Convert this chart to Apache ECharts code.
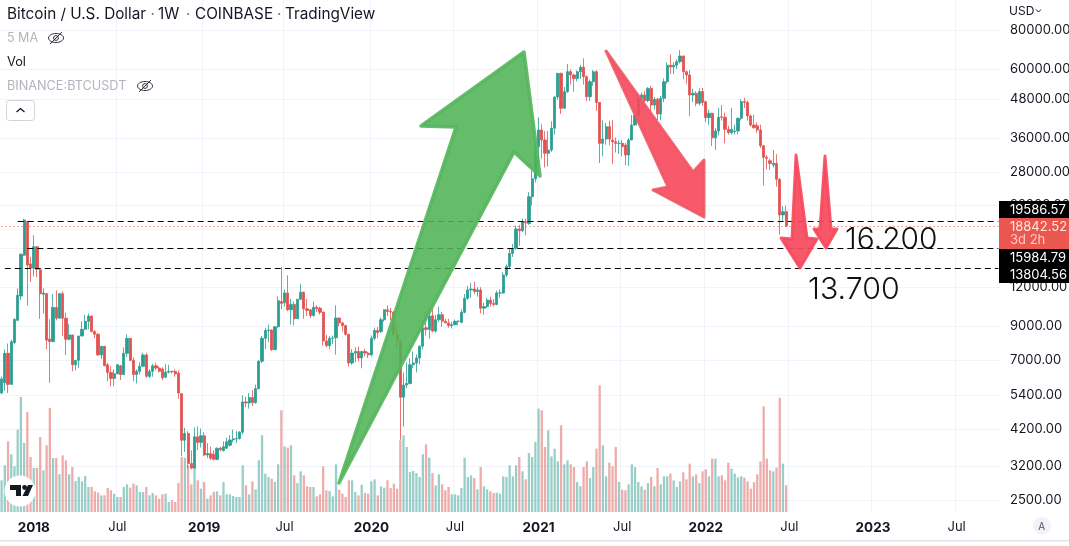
<!DOCTYPE html>
<html><head><meta charset="utf-8">
<script src="https://cdn.jsdelivr.net/npm/echarts@6/dist/echarts.min.js"></script>
<style>html,body{margin:0;padding:0;background:#fff}#c{width:1069px;height:546px}</style>
</head><body><div id="c"></div>
<script>
// weekly candles [open, close, low, high]
const candles2017 = [[5500,6100,5450,6200],[5930,7370,5600,7580],[7370,5860,5500,7920],[5860,8030,5860,8140],[7980,9460,7900,9550],[9400,11300,9350,11900],[11240,15300,10900,15400],[15200,19700,15100,19891],[19500,14130,10500,19550],[14250,13810,12460,15000]];
const candles2018 = [[13810,16180,13000,17600],[16180,13700,12900,16200],[13640,11440,9500,13700],[11390,11500,9900,11900],[11440,8120,7600,11500],[8190,8030,5930,9480],[8030,10340,8030,11400],[10340,9550,9400,11720],[9550,11440,9550,11500],[11440,9550,8370,11650],[9550,8170,7280,9950],[8170,8440,8100,9150],[8440,6770,6450,8440],[6770,7000,6500,7000],[7000,8375,6610,8375],[8375,8800,8350,9330],[8800,9330,8750,9780],[9330,9700,8800,9870],[9700,8650,8600,9750],[8650,8480,8230,8750],[8480,7280,7250,8560],[7280,7760,7050,7760],[7760,6720,6700,7780],[6770,6400,6000,6880],[6400,6120,5770,6700],[6120,6340,5770,6550],[6340,6770,6300,6810],[6720,6300,6050,6770],[6300,7370,6300,7700],[7370,8220,7180,8480],[8220,7000,6950,8270],[7000,6300,6000,7150],[6300,6450,5900,6550],[6450,6700,6300,6900],[6700,7280,6650,7400],[7280,6220,6150,7400],[6220,6450,6130,6550],[6450,6720,6200,6820],[6720,6610,6500,6870],[6610,6450,6400,6700],[6560,6150,6040,6650],[6180,6410,6150,6800],[6410,6450,6350,6770],[6450,6430,6350,6480],[6450,6330,6200,6550],[6370,5500,5270,6500],[5470,3880,3450,5500],[3880,4080,3560,4250],[4080,3270,3150,4150],[3270,3160,3130,3600],[3160,3980,3150,4260],[3980,3820,3620,4300],[3820,4010,3680,4230]];
const candles2019 = [[4010,3480,3450,4120],[3480,3520,3400,3800],[3520,3400,3350,3700],[3500,3370,3350,3600],[3370,3660,3350,3680],[3660,3620,3580,3700],[3600,3700,3570,3850],[3660,3840,3640,3960],[3740,3890,3700,4030],[3890,3920,3820,4200],[3920,3930,3800,4150],[3930,4120,3900,4150],[4120,5150,4050,5400],[5150,5110,4950,5350],[5110,5320,4900,5500],[5320,5120,5000,5620],[5120,5680,5080,5850],[5680,6950,5650,7000],[6950,8230,6850,8370],[8230,8720,7600,8900],[8720,8750,8000,9100],[8750,7570,7500,8800],[7570,8960,7550,9000],[8960,10860,8900,11200],[10790,10650,10200,13950],[10700,11500,10400,11800],[11500,10160,10050,13100],[10160,10570,9110,11000],[10570,9510,9050,10800],[9510,10980,9500,11000],[10980,11570,10900,12300],[11570,10230,9500,11620],[10230,10110,9700,11000],[10160,9740,9560,10200],[9740,10350,9650,10800],[10350,10230,10000,10500],[10280,9970,9800,10400],[9990,8070,7800,10000],[8070,7800,7700,8450],[7800,8230,7600,8370],[8230,8250,7900,8400],[8270,9560,7300,10500],[9560,9220,9000,9600],[9220,9040,8650,9300],[9040,8480,8400,9100],[8480,6860,6700,8500],[6860,7380,6770,7600],[7380,7470,6900,7700],[7470,7120,6950,7750],[7120,7470,6600,7500],[7470,7380,7200,7600],[7380,7290,7120,7450]];
const candles2020 = [[7290,8230,7200,8400],[8230,8720,8100,8900],[8720,8580,8250,8950],[8650,9440,8550,9600],[9440,10160,9300,10200],[10160,10040,9700,10500],[10040,9990,9400,10300],[9990,8480,8400,10040],[8480,8070,7600,9200],[8070,5330,3890,8100],[5330,5830,4290,6400],[5830,5900,5700,6900],[5900,6770,5850,7100],[6770,6860,6600,7470],[6860,7120,6400,7300],[7120,7770,6800,7800],[7770,8890,7600,9440],[8890,8780,8400,10000],[8780,9700,8200,9900],[9720,8680,8600,10300],[8680,9440,8600,9800],[9440,9800,9300,10400],[9800,9330,8950,10000],[9330,9220,9200,9500],[9220,9040,8900,9500],[9040,9110,8850,9300],[9110,9330,9050,9450],[9330,9335,9050,9400],[9260,9970,9200,10200],[9970,11050,9900,11400],[11050,11760,10950,12100],[11760,11840,11100,12400],[11840,11620,11400,12480],[11620,11760,11200,12000],[11760,10280,9900,12000],[10280,10400,9800,10700],[10400,10910,10300,11100],[10910,10650,10400,11200],[10650,10570,10400,11000],[10570,11500,10500,11700],[11500,11510,11100,11800],[11500,13130,11450,13400],[13130,13990,12900,14200],[13990,15400,13800,16000],[15400,15990,15000,16500],[15990,18450,15800,18900],[18450,18200,16300,19000],[18200,19480,18000,19900],[19480,19280,17600,19900],[19200,23400,19000,24200],[23400,26700,21900,28400],[26700,33830,26000,34800]];
const candles2021 = [[33830,38270,30000,42010],[38270,35540,31000,39900],[35540,32210,29000,38000],[32210,33010,29200,38000],[33010,38730,32500,40800],[38790,48800,37000,49000],[48800,58100,47800,58300],[58100,44900,43060,58400],[44900,50760,44900,52500],[50760,58820,50300,62200],[58820,57400,53500,59800],[57400,55900,50760,58000],[55900,58800,54800,59400],[58800,60800,55800,61800],[60800,56700,53500,64900],[56700,48920,47300,57200],[48920,54650,47300,55500],[54650,58820,53000,59500],[58820,46900,44070,59500],[46900,34670,30000,47000],[34670,35800,31500,41100],[35800,39210,34300,40300],[39210,35800,34200,41000],[35540,35100,29800,41200],[35100,34670,32400,36200],[34670,34700,32100,35500],[34670,33830,31500,35500],[34250,31820,29500,34800],[31820,35540,29300,36000],[35540,39700,35500,42700],[39700,42740,39500,44000],[42740,48330,42000,50000],[48330,49530,47000,50300],[49530,47500,46800,51000],[47500,52000,47000,52500],[52000,46000,43900,53000],[46000,48000,44500,48800],[48000,43060,41190,48500],[43060,48330,41100,49200],[48330,54650,47000,56000],[54650,61700,53800,63000],[61700,60900,58000,66800],[60900,61700,57800,63000],[61700,63300,60000,64500],[63300,66030,62500,69000],[66030,58820,55600,66300],[58820,57400,53800,59300],[57400,49530,42430,59500],[49530,50140,47000,51900],[50140,46570,45600,51000],[46570,50800,45900,52000],[50800,46900,45700,52200]];
const candles2022 = [[47150,41900,40500,47500],[41900,43270,39800,44500],[43270,36150,34000,43500],[36150,38000,33000,38800],[37980,42010,36800,45000],[42200,42010,41000,46000],[42010,38450,34700,43500],[38450,37520,37000,39500],[37520,38450,37000,45000],[37800,38000,37000,39800],[38000,41700,37000,41900],[41700,47150,41000,48000],[47150,46900,45000,48500],[46900,42430,41000,47500],[42430,39700,39200,43000],[39700,38900,38700,42800],[39500,38270,37500,40500],[38270,34080,33500,39800],[34080,31290,25400,34200],[31290,31050,28600,31800],[30500,29900,28500,30900],[29560,29920,29000,33000],[29920,26600,25200,32000],[26600,20440,17700,26800],[20440,20950,19600,21800],[20950,18842,18700,21900]];
// weekly volume, in reading units of the picture
const volumes2017 = [95,140,212,173,137,247,345,207,300,165];
const volumes2018 = [132,132,225,125,200,312,162,162,113,170,155,113,135,93,105,92,108,75,75,62,58,50,50,72,65,55,45,45,75,83,73,85,80,60,60,75,50,57,50,40,53,55,30,35,30,87,165,163,140,83,132,95,70];
const volumes2019 = [90,40,50,60,62,50,90,53,53,48,45,45,140,80,53,92,68,155,230,115,105,100,90,143,305,197,193,200,110,87,122,110,77,75,75,47,53,137,65,63,47,143,67,55,45,95,95,60,50,82,57,55];
const volumes2020 = [92,98,50,77,73,95,72,85,70,215,230,195,120,123,117,105,173,203,163,117,80,113,83,65,75,53,53,50,72,163,105,110,102,68,135,77,68,62,57,58,55,107,105,140,107,140,165,122,98,177,165,210];
const volumes2021 = [310,305,195,245,167,190,152,260,143,155,143,135,90,77,135,152,102,135,190,380,200,107,148,137,195,90,67,65,83,143,135,90,77,67,87,105,77,132,83,107,107,115,95,75,92,119,98,145,107,113,87,122];
const volumes2022 = [128,107,160,160,107,110,95,148,130,115,104,107,103,92,70,89,113,152,317,160,125,122,133,343,145,80];
const priceTicks = [2500,3200,4200,5400,7000,9000,12000,16000,22000,28000,36000,48000,60000,80000];
const levels = [{value:19586.57,from:5},{value:15984.79,from:8},{value:13804.56,from:1}];
const lastPrice = 18842.52;
const firstMonday = Date.UTC(2017,9,23);
const weekCount = 311;
const upColor = '#2b9e92', downColor = '#e25350';
const upVol = 'rgba(38,150,140,0.47)', downVol = 'rgba(222,90,85,0.5)';

const candles = [].concat(candles2017,candles2018,candles2019,candles2020,candles2021,candles2022);
const volumes = [].concat(volumes2017,volumes2018,volumes2019,volumes2020,volumes2021,volumes2022);
const categories = [];
for (let i=0;i<weekCount;i++) categories.push(new Date(firstMonday+i*7*864e5).toISOString().slice(0,10));
function isTick(i){
  const d=new Date(categories[i]+'T00:00:00Z');
  return d.getUTCDate()<=7 && (d.getUTCMonth()===0||d.getUTCMonth()===6);
}
const FONT='Inter, "Noto Sans", sans-serif';
const txt=(x,y,t,fs,fill,w)=>({type:'text',z:200,zlevel:1,x,y,style:{text:t,font:(w?w+' ':'')+fs+'px '+FONT,fill,textVerticalAlign:'middle'}});
const poly=(pts,fill,stroke,lw)=>({type:'polygon',z:100,zlevel:1,shape:{points:pts},style:{fill,stroke,lineWidth:lw,lineJoin:'round'}});
const eye=(cx,cy)=>[
 {type:'ellipse',z:200,zlevel:1,shape:{cx,cy,rx:7.5,ry:4.5},style:{fill:'none',stroke:'#2a2e39',lineWidth:1}},
 {type:'line',z:200,zlevel:1,shape:{x1:cx-6,y1:cy+6,x2:cx+6,y2:cy-6},style:{stroke:'#2a2e39',lineWidth:1}},
 {type:'circle',z:200,zlevel:1,shape:{cx,cy,r:2.4},style:{fill:'none',stroke:'#2a2e39',lineWidth:1}}];
const boxes=[[201,17,'#000'],[218,31,'#e9574f'],[249,17,'#000'],[266,17,'#000']];
const graphics=[
 poly([[524,52],[421,126],[456,127],[339,483],[514,152],[540,176]],'rgba(80,180,88,0.88)','rgba(84,182,92,0.9)',3.5),
 poly([[606,51],[693,172],[704,160],[704,217],[653,190],[668,187]],'rgba(247,72,92,0.9)','rgba(240,86,100,0.9)',3),
 poly([[796,155],[807,238],[817,239],[800,268],[781,238],[792,239]],'rgba(247,72,92,0.92)','rgba(247,72,92,0.9)',3),
 poly([[825,156],[831,229],[837,229],[826,248],[814,229],[820,229]],'rgba(247,72,92,0.92)','rgba(247,72,92,0.9)',3),
 ...boxes.map(b=>({type:'rect',z:150,zlevel:1,shape:{x:999,y:b[0],width:70,height:b[1]},style:{fill:b[2]}})),
 txt(1010,210,'19586.57',13,'#fff'),txt(1010,227,'18842.52',13,'#ffe8e6'),txt(1010,240,'3d 2h',13,'#ffc9c4'),
 txt(1010,258,'15984.79',13,'#fff'),txt(1010,275,'13804.56',13,'#fff'),
 txt(845,240,'16.200',29.9,'#111',300),txt(808,290,'13.700',30.3,'#111',300),
 txt(7,14,'Bitcoin / U.S. Dollar',15.3,'#131722'),txt(150.5,14,'·',15.3,'#787b86'),txt(158,14,'1W',15.3,'#131722'),txt(186,14,'·',15.3,'#787b86'),
 txt(195,14,'COINBASE',15.3,'#131722'),txt(277,14,'·',15.3,'#787b86'),txt(285,14,'TradingView',15.3,'#131722'),
 txt(7,38.5,'5 MA',12.5,'#b2b5be'),txt(7,62,'Vol',12.8,'#131722'),txt(7,86,'BINANCE:BTCUSDT',12.7,'#b2b5be'),
 ...eye(56,38),...eye(145,86),
 {type:'rect',z:200,zlevel:1,shape:{x:6.5,y:100.5,width:28,height:20,r:3},style:{fill:'#fff',stroke:'#d1d4dc',lineWidth:1}},
 {type:'polyline',z:201,zlevel:1,shape:{points:[[16.5,112],[20.5,108.5],[24.5,112]]},style:{fill:'none',stroke:'#131722',lineWidth:1.3}},
 txt(1009,11,'USD',12,'#131722'),
 {type:'polyline',z:201,zlevel:1,shape:{points:[[1036,9.5],[1038.5,12],[1041,9.5]]},style:{fill:'none',stroke:'#131722',lineWidth:1}},
 {type:'circle',z:120,zlevel:1,shape:{cx:20,cy:491,r:15.5},style:{fill:'#fff'}},
 {type:'polygon',z:121,zlevel:1,shape:{points:[[10,485],[21,485],[21,496],[16,496],[16,490],[10,490]]},style:{fill:'#131722'}},
 {type:'circle',z:121,zlevel:1,shape:{cx:24.6,cy:487.5,r:2.4},style:{fill:'#131722'}},
 {type:'polygon',z:121,zlevel:1,shape:{points:[[28,485],[33,485],[28,496],[22.5,496]]},style:{fill:'#131722'}},
 {type:'circle',z:120,zlevel:1,shape:{cx:1042,cy:526,r:9},style:{fill:'#f0f3fa'}},
 txt(1038.3,526.5,'A',10,'#50535e'),
 {type:'rect',z:120,zlevel:1,shape:{x:0,y:540,width:1069,height:1.5},style:{fill:'#e0e3eb'}}
];

const chart=echarts.init(document.getElementById('c'),null,{renderer:'canvas'});
const gridColor='#f0f3fa';
chart.setOption({
 animation:false,backgroundColor:'#fff',
 grid:[{left:0,top:0,width:1000,height:512,outerBoundsMode:'none'},{left:0,top:372,width:1000,height:140,outerBoundsMode:'none'}],
 xAxis:[
  {type:'category',gridIndex:0,data:categories,boundaryGap:true,
   axisLine:{show:false},axisTick:{show:false,alignWithLabel:true,interval:isTick},
   splitLine:{show:true,showMinLine:false,showMaxLine:false,interval:isTick,lineStyle:{color:gridColor,width:1}},
   axisLabel:{show:true,interval:isTick,margin:9,hideOverlap:false,
    formatter:v=>{const d=new Date(v+'T00:00:00Z');return d.getUTCMonth()===0?'{y|'+d.getUTCFullYear()+'}':'{m|Jul}';},
    rich:{y:{fontFamily:FONT,fontSize:13.5,fontWeight:700,color:'#131722'},m:{fontFamily:FONT,fontSize:13,color:'#131722'}}}},
  {type:'category',gridIndex:1,data:categories,show:false}
 ],
 yAxis:[
  {type:'log',logBase:10,gridIndex:0,position:'right',min:2286,max:99810,
   axisLine:{show:false},axisTick:{show:false,customValues:priceTicks},
   splitLine:{show:true,lineStyle:{color:gridColor,width:1}},
   axisLabel:{show:true,customValues:priceTicks,formatter:v=>Number(v).toFixed(2),margin:10,padding:[2,0,0,0],fontFamily:FONT,fontSize:13,color:'#131722',align:'left'}},
  {type:'value',gridIndex:1,min:0,max:420,show:false,splitLine:{show:false}}
 ],
 series:[
  {type:'bar',xAxisIndex:1,yAxisIndex:1,barWidth:2.3,z:1,silent:true,
   data:volumes.map((v,i)=>({value:v,itemStyle:{color:candles[i][1]>=candles[i][0]?upVol:downVol}}))},
  {type:'candlestick',xAxisIndex:0,yAxisIndex:0,z:2,silent:true,barWidth:2.7,
   itemStyle:{color:upColor,color0:downColor,borderColor:upColor,borderColor0:downColor,borderWidth:0.8},
   data:candles,
   markLine:{silent:true,symbol:'none',animation:false,label:{show:false},
    data:[
     ...levels.map(l=>[{coord:[l.from,l.value],lineStyle:{color:'#000',type:[6,4],width:1}},{coord:[weekCount-1,l.value]}]),
     [{coord:[0,lastPrice],lineStyle:{color:'#e25350',type:[1,3],width:1}},{coord:[weekCount-1,lastPrice]}]
    ]}}
 ],
 graphic:{elements:graphics}
});
</script></body></html>
